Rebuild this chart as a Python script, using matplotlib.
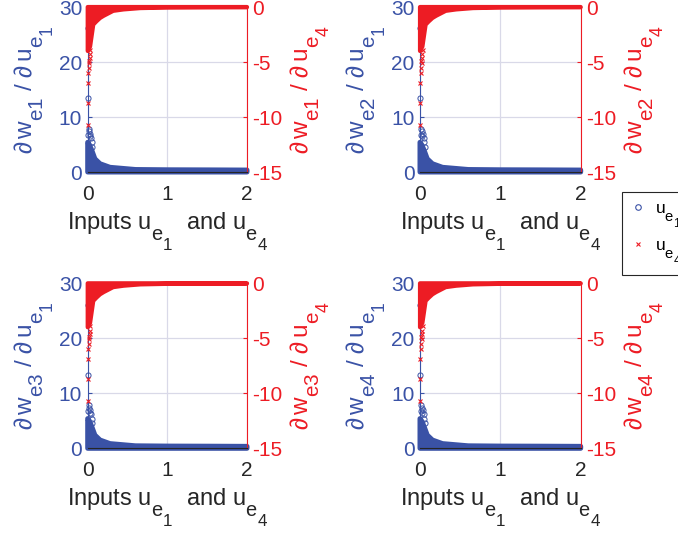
import numpy as np
import matplotlib
matplotlib.use("Agg")
import matplotlib.pyplot as plt
from matplotlib.lines import Line2D
import matplotlib._mathtext as mt

plt.rcParams['font.family'] = ['Liberation Sans', 'DejaVu Sans']
plt.rcParams['mathtext.fontset'] = 'custom'
plt.rcParams['mathtext.rm'] = 'Liberation Sans'
plt.rcParams['mathtext.it'] = 'Liberation Sans:italic'
plt.rcParams['mathtext.bf'] = 'Liberation Sans:bold'

# TeX-style subscripts: nearly full size and dropped well below the baseline
mt.SHRINK_FACTOR = 0.85
mt.FontConstantsBase.sub1 = 0.9
mt.FontConstantsBase.sub2 = 0.9
mt.FontConstantsBase.subdrop = 0.9

BLUE = '#3a52a6'
RED = '#ed1c24'
TXT = '#262626'
GRID = '#d9d9e8'

# Dense cloud of dw/du_e1 samples: envelope of the sample band (left axis)
band_u1 = [0.0, 0.02, 0.05, 0.09, 0.155, 0.28, 0.6, 1.0, 1.5, 2.0]
band_hi1 = [5.4, 5.0, 4.0, 2.4, 1.5, 0.85, 0.45, 0.4, 0.38, 0.35]
band_lo1 = [0.0, 0.0, 0.0, 0.0, 0.0, 0.0, 0.0, 0.0, 0.0, 0.0]

# Isolated dw/du_e1 samples near zero input
pts_u1 = [0.000, 0.000, 0.012, 0.020, 0.035, 0.028, 0.045, 0.050, 0.010, 0.060]
pts_w1 = [26.1, 13.4, 7.9, 7.4, 7.0, 6.5, 6.2, 5.4, 6.8, 4.6]

# Dense cloud of dw/du_e4 samples: envelope of the sample band (right axis)
band_u4 = [0.0, 0.015, 0.03, 0.05, 0.07, 0.11, 0.155, 0.2, 0.32, 0.45, 0.66, 1.0, 1.5, 2.0]
band_hi4 = [0.0, 0.0, 0.0, 0.0, 0.0, 0.0, 0.0, 0.0, 0.0, 0.0, 0.0, 0.0, 0.0, 0.0]
band_lo4 = [-4.0, -3.8, -3.6, -2.6, -1.6, -1.3, -1.0, -0.8, -0.35, -0.22, -0.1, -0.05, -0.03, -0.02]

# Isolated dw/du_e4 samples near zero input
pts_u4 = [0.003, 0.003, 0.003, 0.010, 0.015, 0.020, 0.025, 0.030, 0.012, 0.035]
pts_w4 = [-10.7, -8.7, -6.9, -6.0, -5.5, -5.1, -4.6, -4.3, -4.9, -3.9]

outputs = ['e1', 'e2', 'e3', 'e4']
x_ticks = [0, 1, 2]
left_ticks = [0, 10, 20, 30]
right_ticks = [-15, -10, -5, 0]

W, H = 678, 535
fig = plt.figure(figsize=(W / 100, H / 100), dpi=100)

# axes boxes in pixels: (left, top, right, bottom)
boxes = [(87.7, 7, 247, 172), (420, 7, 580.7, 172),
         (87.7, 283.3, 247, 448.3), (420, 283.3, 580.7, 448.3)]

TICK_FS = 15
XLABEL_FS = 17
YLABEL_FS = 17.5


def draw_band(ax, u, lo, hi, color, lw):
    xs = np.r_[u, u[::-1]]
    ys = np.r_[hi, lo[::-1]]
    ax.fill(xs, ys, facecolor=color, edgecolor=color, lw=lw,
            joinstyle='round', clip_on=False, zorder=3)


for name, (l, t, r, b) in zip(outputs, boxes):
    ax = fig.add_axes([l / W, 1 - b / H, (r - l) / W, (b - t) / H])
    ax2 = ax.twinx()

    ax.set_xlim(0, 2)
    ax.set_ylim(0, 30)
    ax2.set_ylim(-15, 0)
    ax.set_xticks(x_ticks)
    ax.set_yticks(left_ticks)
    ax2.set_yticks(right_ticks)
    ax.set_xticklabels([str(v) for v in x_ticks])
    ax.set_yticklabels([str(v) for v in left_ticks])
    ax2.set_yticklabels([str(v) for v in right_ticks])

    ax.set_axisbelow(True)
    ax.grid(True, color=GRID, lw=0.9)

    for a in (ax, ax2):
        for s in a.spines.values():
            s.set_linewidth(0.8)
            s.set_color(TXT)
    ax.spines['left'].set_color(BLUE)
    ax2.spines['right'].set_color(RED)
    ax2.spines['left'].set_visible(False)
    ax.spines['right'].set_visible(False)

    ax.tick_params(axis='x', direction='in', length=3, colors=TXT,
                   labelsize=TICK_FS, pad=9)
    ax.tick_params(axis='y', direction='in', length=3, colors=BLUE,
                   labelsize=TICK_FS, pad=4)
    ax2.tick_params(axis='y', direction='in', length=3, colors=RED,
                    labelsize=TICK_FS, pad=4)

    draw_band(ax, np.array(band_u1), np.array(band_lo1), np.array(band_hi1), BLUE, 3.6)
    ax.plot(pts_u1, pts_w1, ls='none', marker='o', ms=3.7, mfc='none',
            mec=BLUE, mew=0.7, clip_on=False, zorder=4)

    draw_band(ax2, np.array(band_u4), np.array(band_lo4), np.array(band_hi4), RED, 3.0)
    ax2.plot(pts_u4, pts_w4, ls='none', marker='x', ms=3.0, mec=RED,
             mew=0.8, clip_on=False, zorder=4)

    ax.set_xlabel(r'Inputs $\mathrm{u_{e_1}}$  and $\mathrm{u_{e_4}}$',
                  fontsize=XLABEL_FS, color=TXT, labelpad=5)
    ax.set_ylabel(r'$\partial\,\mathrm{w_{%s}}\ /\ \partial\,\mathrm{u_{e_1}}$' % name,
                  fontsize=YLABEL_FS, color=BLUE, labelpad=2)
    ax2.set_ylabel(r'$\partial\,\mathrm{w_{%s}}\ /\ \partial\,\mathrm{u_{e_4}}$' % name,
                   fontsize=YLABEL_FS, color=RED, labelpad=4)

handles = [Line2D([], [], ls='none', marker='o', ms=4, mfc='none', mec=BLUE, mew=0.8),
           Line2D([], [], ls='none', marker='x', ms=3.5, mec=RED, mew=0.8)]
leg = fig.legend(handles, [r'$\mathrm{u_{e_1}}$', r'$\mathrm{u_{e_4}}$'],
                 loc='upper left', bbox_to_anchor=(622 / W, 1 - 192 / H),
                 frameon=True, fancybox=False, edgecolor=TXT, framealpha=1,
                 borderaxespad=0, borderpad=0.5, handlelength=0.9,
                 handletextpad=0.5, labelspacing=0.45, fontsize=12.5)
leg.get_frame().set_linewidth(0.8)

fig.savefig('out.png', dpi=100)
